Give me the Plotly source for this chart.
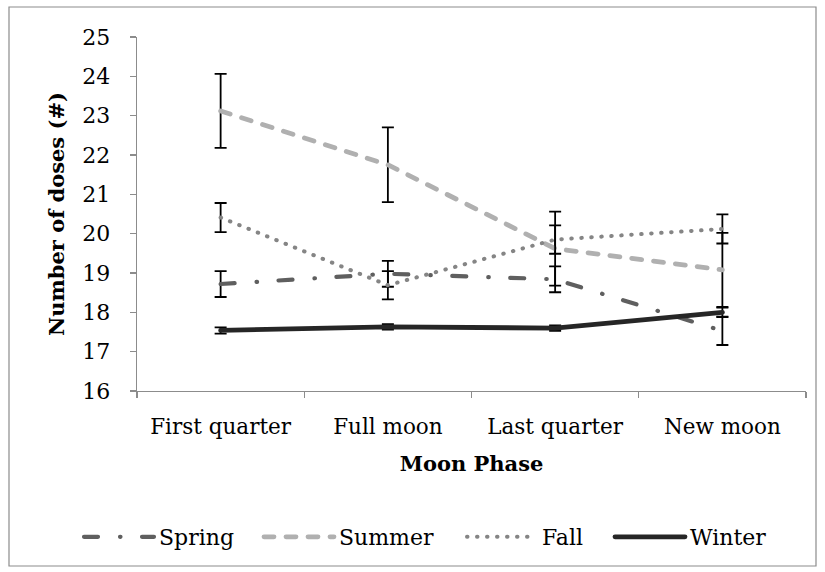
import plotly.graph_objects as go

phases = ["First quarter", "Full moon", "Last quarter", "New moon"]
seasons = ["Spring", "Summer", "Fall", "Winter"]

spring = [18.72, 18.98, 18.84, 17.53]
spring_err = [0.33, 0.33, 0.33, 0.36]
summer = [23.12, 21.75, 19.62, 19.08]
summer_err = [0.94, 0.95, 0.94, 0.94]
fall = [20.41, 18.69, 19.85, 20.12]
fall_err = [0.37, 0.36, 0.36, 0.37]
winter = [17.54, 17.63, 17.60, 18.00]
winter_err = [0.08, 0.07, 0.07, 0.12]

y_ticks = list(range(16, 26))

values = {"Spring": (spring, spring_err), "Summer": (summer, summer_err),
          "Fall": (fall, fall_err), "Winter": (winter, winter_err)}
styles = {
    "Spring": dict(color="#5f5f5f", width=4.2, dash="14px,22px,0.5px,21.5px"),
    "Summer": dict(color="#b0b0b0", width=4.8, dash="10px,12px"),
    "Fall": dict(color="#858585", width=4.0, dash="0.5px,9.5px"),
    "Winter": dict(color="#262626", width=4.8, dash="solid"),
}

FONT = "DejaVu Serif"
W, H = 825, 572
L, R, T, B = 137, 19, 37, 181
pw, ph = W - L - R, H - T - B


def px(x):
    return (x - L) / pw


def py(y):
    return (H - B - y) / ph


legend_names = ["legend", "legend2", "legend3", "legend4"]
legend_starts = [86, 266, 469, 617]

fig = go.Figure()
for s, lg in zip(seasons, legend_names):
    v, e = values[s]
    fig.add_trace(go.Scatter(
        x=phases, y=v, name=s, mode="lines",
        line=styles[s], legend=lg, showlegend=True,
        error_y=dict(type="data", array=e, visible=True, color="#000000",
                     thickness=1.8, width=6),
    ))

fig.add_shape(type="rect", xref="paper", yref="paper",
              x0=px(9), x1=px(816), y0=py(566), y1=py(7),
              line=dict(color="#8c8c8c", width=1.2), fillcolor="rgba(0,0,0,0)",
              layer="below")

legend_common = dict(orientation="h", xanchor="left", yanchor="middle",
                     y=py(537), font=dict(family=FONT, size=22),
                     itemwidth=70, bgcolor="rgba(0,0,0,0)", borderwidth=0)
layout_legends = {}
for lg, xs in zip(legend_names, legend_starts):
    layout_legends[lg] = dict(legend_common, x=px(xs - 7))

fig.update_layout(
    width=W, height=H,
    margin=dict(l=L, r=R, t=T, b=B),
    paper_bgcolor="white", plot_bgcolor="white",
    font=dict(family=FONT, size=22, color="#000000"),
    showlegend=True,
    xaxis=dict(
        type="category", range=[-0.5, 3.5],
        showgrid=False, zeroline=False,
        showline=True, linecolor="#8c8c8c", linewidth=1.3,
        ticks="outside", ticklen=6, tickcolor="#8c8c8c", tickwidth=1.3,
        tickson="boundaries", ticklabelstandoff=16,
        tickfont=dict(family=FONT, size=21.5),
        title=dict(text="<b>Moon Phase</b>", standoff=18,
                   font=dict(family=FONT, size=21)),
    ),
    yaxis=dict(
        range=[16, 25], tickvals=y_ticks,
        showgrid=False, zeroline=False,
        showline=True, linecolor="#8c8c8c", linewidth=1.3,
        ticks="outside", ticklen=6, tickcolor="#8c8c8c", tickwidth=1.3,
        ticklabelstandoff=15,
        tickfont=dict(family=FONT, size=22),
        title=dict(text="<b>Number of doses (#)</b>", standoff=12,
                   font=dict(family=FONT, size=21)),
    ),
    **layout_legends,
)

post = """
document.body.style.margin = '0';
var st = document.createElement('style');
st.innerHTML = 'body{margin:0;} .js-line { stroke-linecap: round; }';
document.head.appendChild(st);
"""
fig.write_html("out.html", post_script=post,
               config={"displayModeBar": False, "staticPlot": True})
